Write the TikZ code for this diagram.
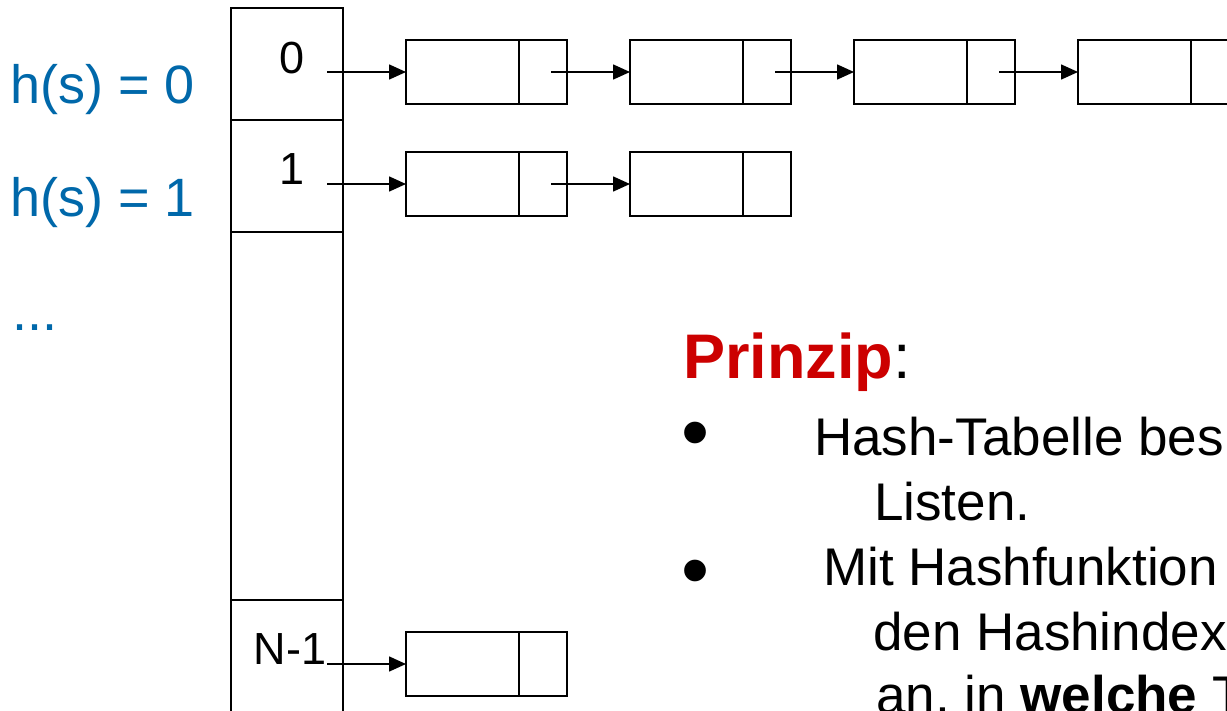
\documentclass[tikz,border=0pt]{standalone}
\usepackage{fontspec}
\setmainfont{Liberation Sans}
\usetikzlibrary{arrows.meta,positioning}
\definecolor{hblue}{RGB}{0,104,170}
\definecolor{pred}{RGB}{204,0,0}
\tikzset{
    slot/.style  ={draw,line width=2pt,minimum width=112pt,inner sep=0pt,outer sep=0pt},
    elem/.style  ={draw,line width=2pt,minimum width=113pt,minimum height=64pt,inner sep=0pt,outer sep=0pt},
    nxt/.style   ={draw,line width=2pt,minimum width=48pt,minimum height=64pt,inner sep=0pt,outer sep=0pt},
    link/.style  ={-{Triangle[length=17pt,width=15pt]},line width=1.6pt},
    idx/.style   ={font=\fontsize{45}{54}\selectfont,anchor=base,inner sep=0pt},
    hlabel/.style={font=\fontsize{54}{64}\selectfont,text=hblue,anchor=base west,inner sep=0pt},
    body/.style  ={font=\fontsize{53}{65}\selectfont,anchor=base west,inner sep=0pt},
    dot/.style   ={font=\fontsize{80}{80}\selectfont,anchor=base west,inner sep=0pt}
}
\begin{document}
\begin{tikzpicture}[x=1pt,y=-1pt]
\useasboundingbox (0,0) rectangle (1227,710);
\clip (0,0) rectangle (1227,710);

% hash table
\node [slot,minimum height=112pt] (slot0)    at (287, 64) {};
\node [slot,minimum height=112pt] (slot1)    at (287,176) {};
\node [slot,minimum height=368pt] (slotdots) at (287,416) {};
\node [slot,minimum height=160pt] (slotN)    at (287,680) {};
\path
    (292, 73) node [idx] {0}
    (292,184) node [idx] {1}
    (290,664) node [idx] {N-1};

% chains
\foreach \i in {0,...,3} {
    \node [elem] (e0\i) at (462.5+224*\i,72) {};
    \node [nxt,right=0pt of e0\i] (p0\i) {};
}
\foreach \i in {0,1} {
    \node [elem] (e1\i) at (462.5+224*\i,184) {};
    \node [nxt,right=0pt of e1\i] (p1\i) {};
}
\node [elem] (eN0) at (462.5,664) {};
\node [nxt,right=0pt of eN0] (pN0) {};

\coordinate (t0) at ([xshift=-16pt]slot0.east);
\coordinate (t1) at ([xshift=-16pt]slot1.east);
\coordinate (tN) at ([xshift=-16pt]slotN.east);
\draw[link] (t0 |- e00.west) -- (e00.west);
\draw[link] (t1 |- e10.west) -- (e10.west);
\draw[link] (tN |- eN0.west) -- (eN0.west);
\foreach \i/\j in {0/1,1/2,2/3}
    \draw[link] ([xshift=8pt]p0\i.center) -- (e0\j.west);
\draw[link] ([xshift=8pt]p10.center) -- (e11.west);

% hash values
\node [hlabel] (h0)    at (10,103) {h(s) = 0};
\node [hlabel] (h1)    at (10,216) {h(s) = 1};
\node [hlabel] (hdots) at (12,330) {...};

% text
\node [anchor=base west,inner sep=0pt,font=\fontsize{63}{75}\selectfont] (prinzip)
    at (683,378) {\textcolor{pred}{\textbf{Prinzip}}:};
\node [dot]  (b1) at (681,459) {•};
\node [dot]  (b2) at (681,597) {•};
\node [body] (l1) at (814,455) {Hash-Tabelle bes};
\node [body] (l2) at (874,520) {Listen.};
\node [body] (l3) at (823,585) {Mit Hashfunktion};
\node [body] (l4) at (873,650) {den Hashindex};
\node [body] (l5) at (876,713) {an, in \textbf{welche} T};
\end{tikzpicture}
\end{document}
